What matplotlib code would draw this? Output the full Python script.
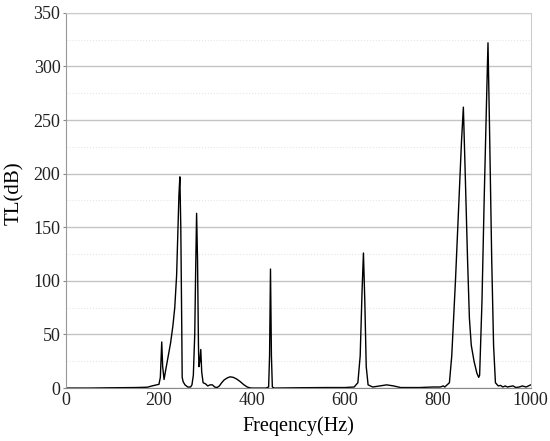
import matplotlib
matplotlib.use("Agg")
import matplotlib.pyplot as plt
from matplotlib.ticker import MultipleLocator

freq = [0, 50, 100, 150, 175, 185, 195, 200, 203, 206, 208, 211, 215, 220, 225, 230, 234, 238, 241, 243, 245,
        247, 249, 250, 252, 256, 262, 268, 271, 274, 277, 279, 281, 283, 285, 286, 288, 290, 292, 295, 300,
        305, 310, 315, 320, 325, 330, 335, 340, 347, 353, 360, 367, 375, 383, 390, 395, 400, 430, 436, 438,
        440, 442, 444, 448, 500, 560, 600, 620, 628, 633, 637, 640, 643, 646, 650, 660, 675, 690, 705, 720,
        760, 790, 805, 812, 815, 820, 825, 830, 838, 845, 851, 855, 859, 864, 868, 872, 878, 884, 888, 890,
        895, 900, 905, 908, 911, 916, 920, 924, 930, 935, 940, 945, 950, 955, 962, 968, 975, 982, 990, 1000]
tl = [0, 0, 0.3, 0.5, 0.8, 2, 3, 3.5, 10, 43, 20, 8, 18, 30, 42, 58, 75, 105, 150, 180, 197,
      150, 60, 10, 6, 3, 1, 1, 3, 12, 50, 110, 163, 120, 40, 20, 25, 36, 15, 5, 4,
      2, 3, 3, 1, 0.5, 2, 5, 7.5, 9.5, 10.5, 10, 8.5, 6, 3, 1, 0.3, 0, 0, 1, 30,
      111, 30, 1, 0, 0.3, 0.5, 0.5, 1, 5, 30, 90, 126, 80, 20, 3, 1, 2, 3, 2, 0.5,
      0.5, 1, 1, 2, 1, 3, 5, 30, 100, 170, 230, 262, 200, 120, 65, 40, 25, 14, 10, 12,
      80, 180, 270, 322, 250, 120, 40, 5, 2, 2.5, 1, 2, 1, 1.5, 2, 0.5, 1, 2, 1, 3]

x_ticks = [0, 200, 400, 600, 800, 1000]
y_ticks = [0, 50, 100, 150, 200, 250, 300, 350]

plt.rcParams['font.family'] = ['Liberation Serif', 'DejaVu Serif']

fig = plt.figure(figsize=(5.5, 4.41), dpi=100)
ax = fig.add_axes([0.120, 0.120, 0.845, 0.851])
ax.plot(freq, tl, color='black', linewidth=1.0)
ax.set_xlim(0, 1000)
ax.set_ylim(0, 350)
ax.set_xticks(x_ticks)
ax.set_yticks(y_ticks)
ax.yaxis.set_minor_locator(MultipleLocator(25))
ax.grid(axis='y', which='major', color='#c4c4c4', linewidth=1.0)
ax.grid(axis='y', which='minor', color='#e6e6e6', linewidth=0.8, linestyle=':')
ax.set_axisbelow(True)
ax.tick_params(axis='both', which='both', length=0, labelsize=13, colors='#222222')
ax.tick_params(axis='y', which='major', length=2, color='#888888', pad=2)
ax.tick_params(axis='x', pad=3)
for s in ['right', 'top']:
    ax.spines[s].set_color('#cccccc')
ax.spines['left'].set_color('#999999')
ax.spines['bottom'].set_color('#888888')
ax.set_xlabel('Freqency(Hz)', fontsize=14.5, labelpad=5)
ax.set_ylabel('TL(dB)', fontsize=15)
ax.yaxis.set_label_coords(-0.09, 0.52)
fig.savefig('out.png', dpi=100)
